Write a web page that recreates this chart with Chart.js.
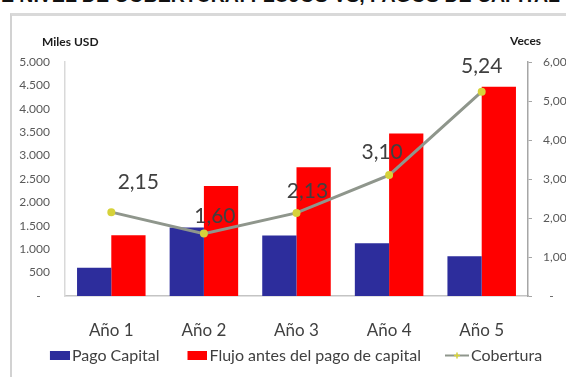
<!DOCTYPE html>
<html lang="es">
<head>
  <meta charset="UTF-8" />
  <title>Nivel de cobertura: flujos vs. pagos de capital</title>
  <script src="https://cdn.jsdelivr.net/npm/chart.js"></script>
  <style>
    html, body {
      margin: 0;
      padding: 0;
      background: #fff;
      overflow: hidden;
    }
    body {
      width: 566px;
      height: 377px;
      position: relative;
    }
    #heading {
      position: absolute;
      top: -16px;
      right: 6px;
      white-space: nowrap;
      font: bold 19.5px 'Liberation Sans', Arial, sans-serif;
      color: #111;
    }
    #frame {
      position: absolute;
      left: 10px;
      top: 13px;
      width: 620px;
      height: 420px;
      box-sizing: border-box;
      border-left: 2px solid #d2d2d2;
      border-top: 3px solid #d9d9d9;
    }
    #wrap {
      position: absolute;
      left: 0;
      top: 0;
      width: 590px;
      height: 377px;
    }
  </style>
</head>
<body>

<div id="heading">DE NIVEL DE COBERTURA: FLUJOS VS, PAGOS DE CAPITAL</div>
<div id="frame"></div>
<div id="wrap"><canvas id="cobertura" width="590" height="377"></canvas></div>

<script>
// años del horizonte
const years = ['Año 1', 'Año 2', 'Año 3', 'Año 4', 'Año 5'];
// miles de USD
const pagoCapital = [605, 1465, 1295, 1125, 852];
const flujoAntesPago = [1300, 2350, 2750, 3470, 4470];
// veces
const cobertura = [2.15, 1.60, 2.13, 3.10, 5.24];

const BLUE = '#2d2d9c';
const RED = '#ff0000';
const LINE = '#8f968c';
const DOT = '#d6d23a';

// desplazamiento de cada etiqueta de cobertura respecto a su punto
const labelShift = [[27, -30], [11, -17], [11, -22], [-7, -23], [0, -25]];

// la marca de leyenda va pegada a la derecha de un lienzo más ancho,
// así el hueco sobrante queda delante de cada entrada
const MARK_BOX = 36;
const MARK_W = MARK_BOX + 12;

function fmtMiles(v) {
  if (v === 0) return '-   ';
  return String(v).replace(/\B(?=(\d{3})+(?!\d))/g, '.');
}

function fmtVeces(v) {
  if (v === 0) return '  -';
  return v.toFixed(2).replace('.', ',');
}

function swatch(color) {
  const c = document.createElement('canvas');
  c.width = MARK_W;
  c.height = 9;
  const g = c.getContext('2d');
  g.fillStyle = color;
  g.fillRect(MARK_W - 20, 0, 20, 9);
  return c;
}

function lineSwatch() {
  const c = document.createElement('canvas');
  c.width = MARK_W;
  c.height = 9;
  const g = c.getContext('2d');
  const x0 = MARK_W - 24;
  g.strokeStyle = LINE;
  g.lineWidth = 2;
  g.beginPath();
  g.moveTo(x0, 4.5);
  g.lineTo(MARK_W, 4.5);
  g.stroke();
  g.strokeStyle = DOT;
  g.lineWidth = 1.5;
  g.beginPath();
  g.moveTo(x0 + 12, 1.5);
  g.lineTo(x0 + 12, 7.5);
  g.moveTo(x0 + 9, 4.5);
  g.lineTo(x0 + 15, 4.5);
  g.stroke();
  return c;
}

const annotations = {
  id: 'annotations',
  afterDatasetsDraw(chart) {
    const { ctx, chartArea } = chart;
    const meta = chart.getDatasetMeta(2);
    ctx.save();
    ctx.font = '21px Lato';
    ctx.fillStyle = '#404040';
    ctx.textAlign = 'center';
    ctx.textBaseline = 'middle';
    meta.data.forEach((pt, i) => {
      ctx.fillText(fmtVeces(cobertura[i]), pt.x + labelShift[i][0], pt.y + labelShift[i][1]);
    });
    ctx.font = 'bold 12px Lato';
    ctx.fillStyle = '#1c1c1c';
    ctx.textAlign = 'left';
    ctx.fillText('Miles USD', chartArea.left - 23, chartArea.top - 20);
    ctx.fillText('Veces', chartArea.right - 18, chartArea.top - 21);
    ctx.restore();
  }
};

function draw() {
  const ctx = document.getElementById('cobertura').getContext('2d');
  const legendMarks = [swatch(BLUE), swatch(RED), lineSwatch()];

  new Chart(ctx, {
    data: {
      labels: years,
      datasets: [
        {
          type: 'bar',
          label: 'Pago Capital',
          data: pagoCapital,
          backgroundColor: BLUE,
          yAxisID: 'y',
          order: 1
        },
        {
          type: 'bar',
          label: 'Flujo antes del pago de capital',
          data: flujoAntesPago,
          backgroundColor: RED,
          yAxisID: 'y',
          order: 1
        },
        {
          type: 'line',
          label: 'Cobertura',
          data: cobertura,
          borderColor: LINE,
          borderWidth: 3,
          pointRadius: 2.5,
          pointBackgroundColor: DOT,
          pointBorderColor: DOT,
          tension: 0,
          yAxisID: 'y1',
          order: 0
        }
      ]
    },
    options: {
      responsive: false,
      animation: false,
      categoryPercentage: 0.74,
      barPercentage: 1.0,
      layout: {
        padding: { top: 62, left: 0, right: 20, bottom: 3.5 }
      },
      plugins: {
        tooltip: { enabled: false },
        legend: {
          position: 'bottom',
          labels: {
            usePointStyle: true,
            pointStyleWidth: MARK_BOX,
            padding: 6,
            color: '#404040',
            font: { family: 'Lato', size: 16 },
            generateLabels(chart) {
              const items = Chart.defaults.plugins.legend.labels.generateLabels(chart);
              items.sort((a, b) => a.datasetIndex - b.datasetIndex);
              items.forEach(it => { it.pointStyle = legendMarks[it.datasetIndex]; });
              return items;
            }
          }
        }
      },
      scales: {
        x: {
          grid: { display: false, drawTicks: false },
          border: { display: true, color: '#c4c4c4', width: 1.5 },
          ticks: {
            padding: 24,
            color: '#404040',
            font: { family: 'Lato', size: 17 }
          },
          afterFit(scale) { scale.height = 45.5; }
        },
        y: {
          position: 'left',
          min: 0,
          max: 5000,
          grid: { display: false, drawTicks: false },
          border: { display: true, color: '#d9d9d9', width: 1.5 },
          ticks: {
            stepSize: 500,
            padding: 15,
            color: '#595959',
            font: { family: 'Lato', size: 12 },
            callback: v => fmtMiles(v)
          },
          afterFit(scale) { scale.width = 65; }
        },
        y1: {
          position: 'right',
          min: 0,
          max: 6,
          grid: { drawOnChartArea: false, drawTicks: true, tickLength: 4, color: '#a6a6a6' },
          border: { display: true, color: '#a6a6a6', width: 1.5 },
          ticks: {
            stepSize: 1,
            padding: 11,
            color: '#595959',
            font: { family: 'Lato', size: 12 },
            callback: v => fmtVeces(v)
          },
          afterFit(scale) { scale.width = 42; }
        }
      }
    },
    plugins: [annotations]
  });
}

Promise.all([
  document.fonts.load('21px Lato'),
  document.fonts.load('bold 12px Lato'),
  document.fonts.load('16px Lato')
]).then(draw, draw);
</script>

</body>
</html>
